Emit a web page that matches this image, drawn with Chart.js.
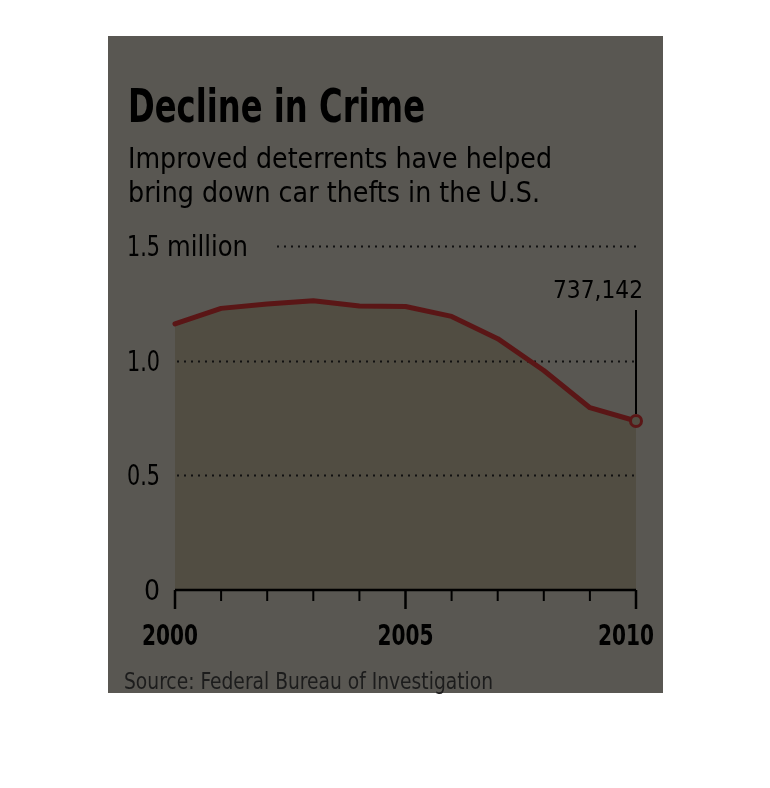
<!DOCTYPE html>
<html>
<head>
<meta charset="utf-8">
<script src="https://cdn.jsdelivr.net/npm/chart.js@4.4.1/dist/chart.umd.min.js"></script>
<style>
   html, body { margin: 0; padding: 0; background: #fff; }
   #wrap { position: relative; width: 770px; height: 788px; }
</style>
</head>
<body>
<div id="wrap"><canvas id="chart" width="770" height="788"></canvas></div>
<script>
// motor vehicle thefts, millions
const years = ['2000', '2001', '2002', '2003', '2004', '2005', '2006', '2007', '2008', '2009', '2010'];
const thefts = [1.160, 1.228, 1.247, 1.261, 1.238, 1.236, 1.193, 1.096, 0.957, 0.795, 0.737];
const yTicks = [0, 0.5, 1.0, 1.5];
const yTickLabels = ['0', '0.5', '1.0', '1.5'];
const xLabelYears = ['2000', '2005', '2010'];
const lastLabel = '737,142';

const title = 'Decline in Crime';
const subtitle = ['Improved deterrents have helped', 'bring down car thefts in the U.S.'];
const source = 'Source: Federal Bureau of Investigation';

const PANEL = '#595752';
const AREA = '#514d42';
const LINE = '#5a1616';
const INK = '#000000';
const FONT = '"Liberation Sans Narrow", "DejaVu Sans Condensed", "Roboto", sans-serif';

function text(ctx, str, x, y, size, bold, align, maxW, color) {
   ctx.save();
   ctx.font = (bold ? 'bold ' : '') + size + 'px ' + FONT;
   ctx.fillStyle = color || INK;
   ctx.textAlign = align || 'left';
   ctx.textBaseline = 'alphabetic';
   if (maxW) ctx.fillText(str, x, y, maxW); else ctx.fillText(str, x, y);
   ctx.restore();
}

const decor = {
   id: 'decor',
   beforeDraw(chart) {
      const ctx = chart.ctx;
      ctx.save();
      ctx.fillStyle = '#ffffff';
      ctx.fillRect(0, 0, chart.width, chart.height);
      ctx.fillStyle = PANEL;
      ctx.fillRect(108, 36, 555, 657);
      ctx.restore();

      text(ctx, title, 128, 122, 47, true, 'left', 297);
      text(ctx, subtitle[0], 128, 168, 29, false, 'left', 424);
      text(ctx, subtitle[1], 128, 202, 29, false, 'left', 412);
      text(ctx, source, 124, 689, 23, false, 'left', 369, '#1c1c1c');
   },
   beforeDatasetsDraw(chart) {
      // dotted gridlines, drawn over the area fill and under the line
      const ctx = chart.ctx;
      const x = chart.scales.x, y = chart.scales.y;
      const left = x.getPixelForValue(0), right = x.getPixelForValue(years.length - 1);
      ctx.save();
      ctx.strokeStyle = '#111';
      ctx.lineWidth = 2;
      ctx.setLineDash([2, 5]);
      yTicks.forEach(v => {
         if (v === 0) return;
         const py = Math.round(y.getPixelForValue(v)) + 0.5;
         ctx.beginPath();
         ctx.moveTo(v === 1.5 ? 277 : left + 2, py);
         ctx.lineTo(right, py);
         ctx.stroke();
      });
      ctx.restore();
   },
   afterDatasetsDraw(chart) {
      const ctx = chart.ctx;
      const x = chart.scales.x, y = chart.scales.y;
      const left = x.getPixelForValue(0), right = x.getPixelForValue(years.length - 1);
      const base = y.getPixelForValue(0);

      // x axis and ticks
      ctx.save();
      ctx.strokeStyle = INK;
      ctx.lineWidth = 2.5;
      ctx.beginPath();
      ctx.moveTo(left, base);
      ctx.lineTo(right, base);
      ctx.stroke();
      years.forEach((yr, i) => {
         const px = x.getPixelForValue(i);
         const major = xLabelYears.includes(yr);
         ctx.beginPath();
         ctx.lineWidth = major ? 2.5 : 2;
         ctx.moveTo(px, base);
         ctx.lineTo(px, base + (major ? 19 : 11));
         ctx.stroke();
      });

      // callout for the last value
      const last = thefts.length - 1;
      const lx = x.getPixelForValue(last), ly = y.getPixelForValue(thefts[last]);
      ctx.lineWidth = 2;
      ctx.beginPath();
      ctx.moveTo(lx, ly - 7);
      ctx.lineTo(lx, 310);
      ctx.stroke();
      ctx.restore();

      text(ctx, lastLabel, lx + 7, 298, 25, false, 'right', 90);

      // y tick labels
      yTicks.forEach((v, i) => {
         const py = y.getPixelForValue(v) + 10;
         text(ctx, yTickLabels[i], 160, py, 28, false, 'right', 33);
         if (v === 1.5) text(ctx, 'million', 167, py, 28, false, 'left', 81);
      });

      // x tick labels; the last one is pulled in to stay inside the panel
      xLabelYears.forEach((yr, i) => {
         const px = x.getPixelForValue(years.indexOf(yr));
         const shift = i === 0 ? -5 : (i === xLabelYears.length - 1 ? -10 : 0);
         text(ctx, yr, px + shift, 645, 29, true, 'center', 56);
      });
   }
};

new Chart(document.getElementById('chart'), {
   type: 'line',
   data: {
      labels: years,
      datasets: [{
         data: thefts,
         borderColor: LINE,
         borderWidth: 5,
         borderJoinStyle: 'round',
         borderCapStyle: 'round',
         backgroundColor: AREA,
         fill: { target: 'origin' },
         tension: 0,
         pointRadius: ctx => ctx.dataIndex === thefts.length - 1 ? 5.5 : 0,
         pointBackgroundColor: AREA,
         pointBorderColor: LINE,
         pointBorderWidth: 3,
         clip: false
      }]
   },
   options: {
      responsive: false,
      animation: false,
      devicePixelRatio: 1,
      layout: { padding: { left: 175, right: 134, top: 246, bottom: 198 } },
      scales: {
         x: { type: 'category', offset: false, display: false },
         y: { min: 0, max: 1.5, display: false }
      },
      plugins: {
         legend: { display: false },
         tooltip: { enabled: false },
         filler: { drawTime: 'beforeDatasetsDraw' }
      }
   },
   plugins: [decor]
});
</script>
</body>
</html>
